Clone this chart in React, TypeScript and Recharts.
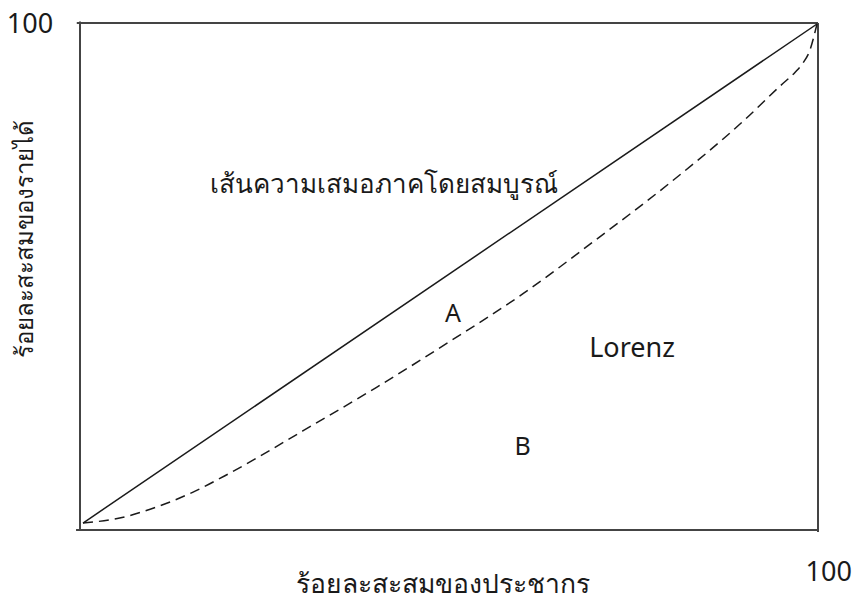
import React from 'react';
import { LineChart, Line, XAxis, YAxis, ReferenceLine, ReferenceDot } from 'recharts';

// cumulative population share (%)
const populationShare = [0, 5, 10, 15, 20, 30, 40, 50, 60, 70, 80, 90, 95, 97, 98, 99, 100];
// cumulative income share (%) on the Lorenz curve
const incomeShare = [0, 1.0, 3.2, 6.2, 10.0, 18.5, 27.2, 36.4, 46.0, 56.9, 68.2, 80.6, 87.6, 90.3, 92.0, 94.6, 100];
const equalityPoints = [0, 100];
const tickLabel = '100';

const X_DOMAIN: [number, number] = [-0.41, 100.14];
const Y_DOMAIN: [number, number] = [-1.4, 100.2];

const lorenzData = populationShare.map((x, i) => ({ x, y: incomeShare[i] }));
const equalityData = equalityPoints.map((v) => ({ x: v, y: v }));

const FONT = '"Noto Sans", "DejaVu Sans", sans-serif';
const INK = '#1a1a1a';
const FRAME = '#444';

const makeLabel = (text: string, size: number, rotate = 0) => (props: any) => {
  const vb = props.viewBox || {};
  const cx = (vb.x ?? 0) + (vb.width ?? 0) / 2;
  const cy = (vb.y ?? 0) + (vb.height ?? 0) / 2;
  return (
    <text
      x={cx}
      y={cy}
      textAnchor="middle"
      dominantBaseline="central"
      fontFamily={FONT}
      fontSize={size}
      fill={INK}
      transform={rotate ? `rotate(${rotate} ${cx} ${cy})` : undefined}
    >
      {text}
    </text>
  );
};

export default function App() {
  const [x0, x1] = X_DOMAIN;
  const [y0, y1] = Y_DOMAIN;
  return (
    <div style={{ position: 'absolute', left: 0, top: 0, width: 853, height: 602, background: '#fff' }}>
      <LineChart width={853} height={602} margin={{ top: 23, right: 35, bottom: 72, left: 80 }}>
        <XAxis type="number" dataKey="x" domain={X_DOMAIN} allowDataOverflow hide />
        <YAxis type="number" dataKey="y" domain={Y_DOMAIN} allowDataOverflow hide />

        {/* frame */}
        <ReferenceLine segment={[{ x: -0.85, y: y1 }, { x: x1, y: y1 }]} ifOverflow="visible" stroke={FRAME} strokeWidth={2} />
        <ReferenceLine segment={[{ x: -0.95, y: y0 }, { x: x1, y: y0 }]} ifOverflow="visible" stroke={FRAME} strokeWidth={2} />
        <ReferenceLine segment={[{ x: x0, y: y0 }, { x: x0, y: y1 + 0.3 }]} ifOverflow="visible" stroke={FRAME} strokeWidth={2} />
        <ReferenceLine segment={[{ x: x1, y: -1.8 }, { x: x1, y: y1 }]} ifOverflow="visible" stroke={FRAME} strokeWidth={2} />

        <Line
          data={equalityData}
          dataKey="y"
          type="linear"
          stroke={INK}
          strokeWidth={1.5}
          dot={false}
          isAnimationActive={false}
        />
        <Line
          data={lorenzData}
          dataKey="y"
          type="monotone"
          stroke={INK}
          strokeWidth={1.5}
          strokeDasharray="10 6"
          dot={false}
          isAnimationActive={false}
        />

        <ReferenceDot x={41.0} y={68.1} r={1} fill="none" stroke="none" label={makeLabel('เส้นความเสมอภาคโดยสมบูรณ์', 26)} />
        <ReferenceDot x={50.4} y={42.3} r={1} fill="none" stroke="none" label={makeLabel('A', 25)} />
        <ReferenceDot x={74.8} y={35.3} r={1} fill="none" stroke="none" label={makeLabel('Lorenz', 27)} />
        <ReferenceDot x={59.9} y={15.6} r={1} fill="none" stroke="none" label={makeLabel('B', 25)} />
        <ReferenceDot x={49.0} y={-12.0} r={1} fill="none" stroke="none" ifOverflow="visible" label={makeLabel('ร้อยละสะสมของประชากร', 26.5)} />
        <ReferenceDot x={-8.04} y={56.9} r={1} fill="none" stroke="none" ifOverflow="visible" label={makeLabel('ร้อยละสะสมของรายได้', 24, -90)} />
        <ReferenceDot x={-7.22} y={100.4} r={1} fill="none" stroke="none" ifOverflow="visible" label={makeLabel(tickLabel, 27)} />
        <ReferenceDot x={101.6} y={-9.6} r={1} fill="none" stroke="none" ifOverflow="visible" label={makeLabel(tickLabel, 27)} />
      </LineChart>
    </div>
  );
}
